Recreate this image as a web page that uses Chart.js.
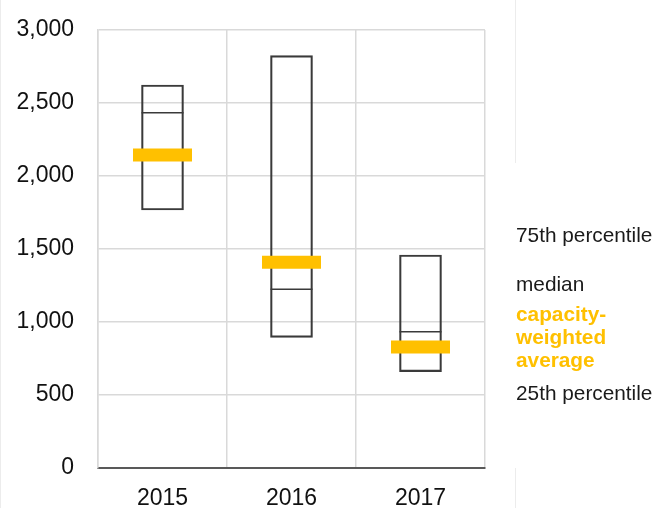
<!DOCTYPE html>
<html>
<head>
<meta charset="utf-8">
<script src="https://cdn.jsdelivr.net/npm/chart.js@4"></script>
<style>
  html, body { margin: 0; padding: 0; background: #fff; }
  #wrap { position: relative; width: 656px; height: 508px; overflow: hidden; }
  #c { position: absolute; left: 0; top: 0; }
  .lab { position: absolute; left: 516px; font-family: "Liberation Sans", Arial, sans-serif; font-size: 20.8px; line-height: 22px; color: #1a1a1a; white-space: nowrap; }
  .avg { color: #FFC000; font-weight: bold; }
  .edge { position: absolute; background: #ececec; width: 1px; }
</style>
</head>
<body>
<div id="wrap">
  <canvas id="c" width="656" height="508"></canvas>
  <div class="edge" style="left:0px;top:0;height:508px;"></div>
  <div class="edge" style="left:515px;top:0;height:163px;"></div>
  <div class="edge" style="left:515px;top:468px;height:40px;"></div>
  <div class="lab" style="top:224px;">75th percentile</div>
  <div class="lab" style="top:273px;">median</div>
  <div class="lab avg" style="top:303px;">capacity-</div>
  <div class="lab avg" style="top:326px;">weighted</div>
  <div class="lab avg" style="top:349px;">average</div>
  <div class="lab" style="top:382px;">25th percentile</div>
</div>
<script>
const categories = ['2015', '2016', '2017'];
const p25 = [1767, 895, 660];
const p75 = [2623, 2824, 1459];
const median = [2434, 1224, 934];
const weightedAvg = [2144, 1409, 829];
const yTicks = [0, 500, 1000, 1500, 2000, 2500, 3000];

const boxData = categories.map((c, i) => [p25[i], p75[i]]);

new Chart(document.getElementById('c'), {
  data: {
    labels: categories,
    datasets: [
      {
        type: 'bar',
        label: 'interquartile',
        data: boxData,
        backgroundColor: 'rgba(255,255,255,0)',
        borderColor: '#3a3a3a',
        borderWidth: 1.5,
        borderSkipped: false,
        barThickness: 42,
        order: 2
      },
      {
        type: 'line',
        label: 'median',
        data: median,
        showLine: false,
        pointStyle: 'line',
        pointRadius: 21,
        pointHoverRadius: 21,
        pointBorderWidth: 1.5,
        pointBorderColor: '#3a3a3a',
        order: 1
      },
      {
        type: 'line',
        label: 'capacity-weighted average',
        data: weightedAvg,
        showLine: false,
        pointStyle: 'line',
        pointRadius: 29.5,
        pointHoverRadius: 29.5,
        pointBorderWidth: 13,
        pointBorderColor: '#FFC000',
        order: 0
      }
    ]
  },
  options: {
    responsive: false,
    animation: false,
    devicePixelRatio: 1,
    layout: { autoPadding: false, padding: { left: 0, right: 171, top: 30, bottom: 0 } },
    plugins: { legend: { display: false }, tooltip: { enabled: false } },
    scales: {
      x: {
        type: 'category',
        offset: true,
        afterFit: (s) => { s.height = 40; s.paddingLeft = 0; s.paddingRight = 0; },
        grid: { display: true, offset: true, color: '#d9d9d9', lineWidth: 1.5, drawTicks: false },
        border: { display: true, color: '#595959', width: 2 },
        ticks: { color: '#111', padding: 17, font: { family: 'Liberation Sans', size: 23 } }
      },
      y: {
        min: 0,
        max: 3000,
        afterFit: (s) => { s.width = 98; s.paddingTop = 0; s.paddingBottom = 0; },
        afterBuildTicks: (s) => { s.ticks = yTicks.map(v => ({ value: v })); },
        grid: { color: '#d9d9d9', lineWidth: 1.5, drawTicks: false },
        border: { display: true, color: '#d9d9d9', width: 1.5 },
        ticks: {
          color: '#111',
          padding: 24,
          font: { family: 'Liberation Sans', size: 23 },
          callback: (v) => v.toLocaleString('en-US')
        }
      }
    }
  }
});
</script>
</body>
</html>
